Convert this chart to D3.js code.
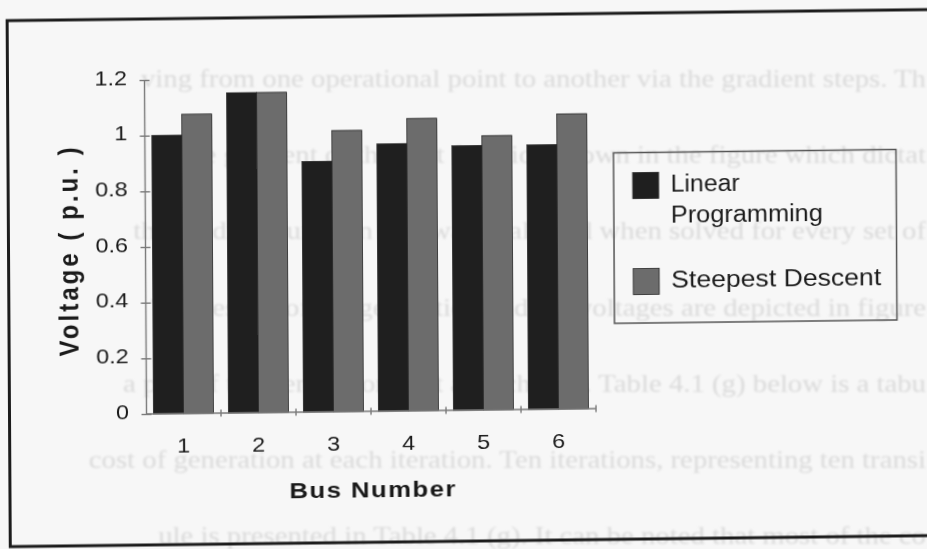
<!DOCTYPE html>
<html><head><meta charset="utf-8">
<script src="https://cdn.jsdelivr.net/npm/d3@7"></script>
<style>body{margin:0;background:#f7f7f7}svg{display:block}</style>
</head><body><svg id="chart" width="927" height="549"></svg>
<script>
// Bus voltages per method
const categories = ["1", "2", "3", "4", "5", "6"];
const seriesNames = ["Linear Programming", "Steepest Descent"];
const linearProgramming = [1.00, 1.15, 0.90, 0.96, 0.95, 0.95];
const steepestDescent = [1.075, 1.15, 1.01, 1.05, 0.985, 1.06];
const yTicks = [0, 0.2, 0.4, 0.6, 0.8, 1, 1.2];
const yTickLabels = ["0", "0.2", "0.4", "0.6", "0.8", "1", "1.2"];
const legendLines = [["Linear", "Programming"], ["Steepest Descent"]];
const xTitle = "Bus Number";
const yTitle = "Voltage ( p.u. )";
// surrounding page text showing faintly behind the figure
const pageLines = [
  "ving from one operational point to another via the gradient steps. Th",
  "s the gradient of the cost function shown in the figure which dictat",
  "the gradient function that was evaluated when solved for every set of",
  "The results of the generation and the voltages are depicted in figure",
  "a plot of the generation cost at each step. Table 4.1 (g) below is a tabu",
  "cost of generation at each iteration. Ten iterations, representing ten transi",
  "ule is presented in Table 4.1 (g). It can be noted that most of the co"
];

const seriesValues = [linearProgramming, steepestDescent];
const seriesFill = ["#1f1f1f", "#6c6c6c"];

const svg = d3.select("#chart");
const W = 927, H = 549;
const defs = svg.append("defs");
defs.append("filter").attr("id", "soft")
  .append("feGaussianBlur").attr("stdDeviation", 0.9);

svg.append("rect").attr("width", W).attr("height", H).attr("fill", "#f7f7f7");

// faint page text
svg.append("g").attr("filter", "url(#soft)")
  .selectAll("text").data(pageLines).join("text")
  .attr("transform", (d, i) => `translate(926,${87 + 76.2 * i}) scale(1.15,1)`)
  .attr("text-anchor", "end")
  .attr("font-family", "'Liberation Serif', 'Times New Roman', serif")
  .attr("font-size", 25)
  .attr("fill", "#dadada")
  .text(d => d);

// the scanned figure sits slightly askew on the page
const b = -0.012, c = 0.006, ox = 146, oy = 414;
const fig = svg.append("g")
  .attr("transform", `matrix(1,${b},${c},1,${-c * oy},${-b * ox})`);

// frame
fig.append("path")
  .attr("d", "M945,19H9.5V545H945")
  .attr("fill", "none").attr("stroke", "#1c1c1c").attr("stroke-width", 3);

const x = d3.scaleBand().domain(categories).range([146, 596])
  .paddingInner(0.2).paddingOuter(0.1);
const xInner = d3.scaleBand().domain(seriesNames).range([0, x.bandwidth()]);
const y = d3.scaleLinear().domain([0, 1.2]).range([414, 80]);

const font = "'Liberation Sans', Arial, sans-serif";

// bars
const groups = fig.append("g").selectAll("g").data(categories).join("g")
  .attr("transform", d => `translate(${x(d)},0)`);
groups.selectAll("rect")
  .data((d, i) => seriesNames.map((s, k) => ({ s, k, v: seriesValues[k][i] })))
  .join("rect")
  .attr("x", d => xInner(d.s))
  .attr("y", d => y(d.v))
  .attr("width", xInner.bandwidth())
  .attr("height", d => y(0) - y(d.v))
  .attr("fill", d => seriesFill[d.k])
  .attr("stroke", "#262626").attr("stroke-width", 0.8);

// y axis
const yAxis = fig.append("g").attr("transform", "translate(146,0)")
  .call(d3.axisLeft(y).tickValues(yTicks)
    .tickFormat((d, i) => yTickLabels[i]).tickSizeOuter(0).tickSize(0));
yAxis.select(".domain").attr("stroke", "#7a7a7a").attr("stroke-width", 1.4);
yAxis.selectAll(".tick line").attr("x1", -4.5).attr("x2", 5.5)
  .attr("stroke", "#7a7a7a").attr("stroke-width", 1.4);
yAxis.selectAll(".tick text")
  .attr("x", null).attr("dy", null)
  .attr("transform", "translate(-17,4) scale(1.17,1)")
  .attr("text-anchor", "end")
  .attr("font-family", font).attr("font-size", 20).attr("fill", "#1a1a1a");

// x axis: labels centred under each bus, ticks on category boundaries
const xAxis = fig.append("g").attr("transform", "translate(0,414)")
  .call(d3.axisBottom(x).tickSize(0).tickSizeOuter(0));
xAxis.select(".domain").attr("d", `M146,0H596`)
  .attr("stroke", "#7a7a7a").attr("stroke-width", 1.4);
xAxis.selectAll(".tick text")
  .attr("y", null).attr("dy", null)
  .attr("transform", "translate(0,39) scale(1.17,1)")
  .attr("font-family", font).attr("font-size", 20).attr("fill", "#1a1a1a");
const bounds = categories.map(cat => x(cat) + x.bandwidth() + x.step() * 0.1);
xAxis.selectAll("line.bound").data(bounds).join("line")
  .attr("class", "bound")
  .attr("x1", d => d).attr("x2", d => d).attr("y1", -3.5).attr("y2", 3.5)
  .attr("stroke", "#7a7a7a").attr("stroke-width", 1.4);

// axis titles
fig.append("text")
  .attr("transform", "translate(372,500) scale(1.17,1)")
  .attr("text-anchor", "middle")
  .attr("font-family", font).attr("font-weight", "bold").attr("font-size", 22)
  .attr("fill", "#1a1a1a")
  .attr("textLength", 142).attr("lengthAdjust", "spacing")
  .text(xTitle);
fig.append("text")
  .attr("transform", "translate(78.5,251) rotate(-90) scale(1,1.17)")
  .attr("text-anchor", "middle")
  .attr("font-family", font).attr("font-weight", "bold").attr("font-size", 24)
  .attr("fill", "#1a1a1a")
  .attr("textLength", 209).attr("lengthAdjust", "spacing")
  .text(yTitle);

// legend
const legend = fig.append("g");
legend.append("rect")
  .attr("x", 615).attr("y", 158.5).attr("width", 282.5).attr("height", 170.5)
  .attr("fill", "none").attr("stroke", "#555").attr("stroke-width", 1.5);
const legendTop = [178.5, 274.5];
const legendWidths = [[69, 152], [210]];
seriesNames.forEach((s, k) => {
  legend.append("rect")
    .attr("x", 634).attr("y", legendTop[k]).attr("width", 26).attr("height", 26)
    .attr("fill", seriesFill[k]).attr("stroke", "#262626").attr("stroke-width", 0.8);
  legendLines[k].forEach((line, j) => {
    legend.append("text")
      .attr("x", 672).attr("y", legendTop[k] + 20 + j * 30.6)
      .attr("font-family", font).attr("font-size", 23).attr("fill", "#1a1a1a")
      .attr("textLength", legendWidths[k][j]).attr("lengthAdjust", "spacingAndGlyphs")
      .text(line);
  });
});
</script></body></html>
